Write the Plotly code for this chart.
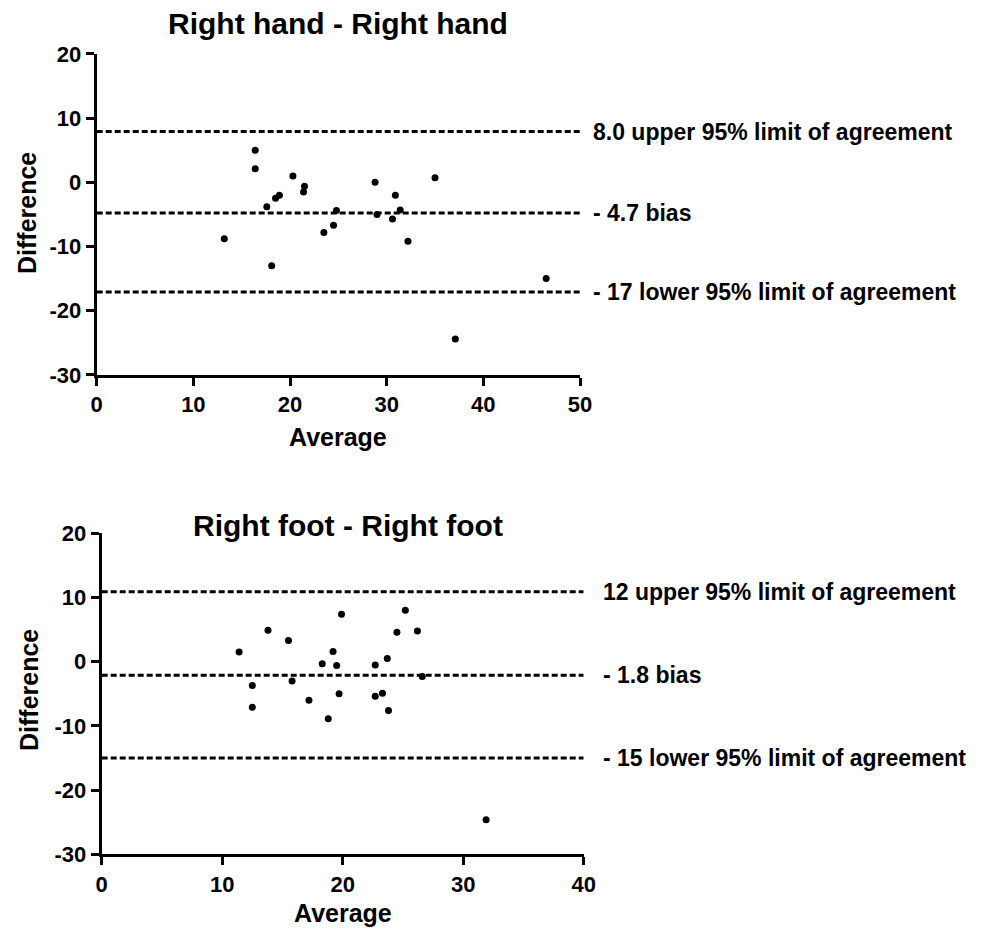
import plotly.graph_objects as go

# Top panel: Right hand - Right hand
hand_avg = [16.4, 16.4, 20.3, 21.5, 21.4, 18.9, 18.5, 17.6, 13.2, 18.1, 23.5,
            24.5, 24.8, 28.8, 29.0, 30.6, 30.9, 31.4, 32.2, 35.0, 37.1, 46.5]
hand_diff = [5.0, 2.1, 1.0, -0.6, -1.5, -2.0, -2.5, -3.8, -8.8, -13.0, -7.8,
             -6.7, -4.4, 0.0, -5.0, -5.7, -2.0, -4.3, -9.2, 0.7, -24.4, -15.0]
hand_limits = [7.9, -4.8, -17.1]
hand_labels = ["8.0 upper 95% limit of agreement", "- 4.7 bias", "- 17 lower 95% limit of agreement"]

# Bottom panel: Right foot - Right foot
foot_avg = [11.4, 12.5, 12.5, 13.8, 15.5, 15.8, 17.2, 18.3, 18.8, 19.2, 19.5, 19.7,
            19.9, 22.7, 22.7, 23.3, 23.7, 23.8, 24.5, 25.2, 26.2, 26.6, 31.9]
foot_diff = [1.5, -3.7, -7.1, 4.9, 3.3, -3.0, -6.0, -0.3, -8.9, 1.6, -0.6, -5.0,
             7.4, -0.5, -5.4, -4.9, 0.5, -7.6, 4.6, 8.0, 4.8, -2.3, -24.6]
foot_limits = [10.9, -2.1, -15.0]
foot_labels = ["12 upper 95% limit of agreement", "- 1.8 bias", "- 15 lower 95% limit of agreement"]

x_ticks_hand = [0, 10, 20, 30, 40, 50]
x_ticks_foot = [0, 10, 20, 30, 40]
y_ticks = [-30, -20, -10, 0, 10, 20]
y_ticktext = ["-30", "-20", "-10", "0", "10", "20"]

FONT = "Liberation Sans"
W, H = 981, 929
OFF = 8  # page body margin
DASH = "6px,3px"


def px(x):
    return (x - OFF) / W


def py(y):
    return 1 - (y - OFF) / H


fig = go.Figure()

# hand
for v in hand_limits:
    fig.add_trace(go.Scatter(x=[0, 50], y=[v, v], mode="lines", xaxis="x", yaxis="y",
                             line=dict(color="black", width=3, dash=DASH), showlegend=False, hoverinfo="skip"))
fig.add_trace(go.Scatter(x=hand_avg, y=hand_diff, mode="markers", xaxis="x", yaxis="y",
                         marker=dict(color="black", size=7), showlegend=False, cliponaxis=False))
# foot
for v in foot_limits:
    fig.add_trace(go.Scatter(x=[0, 40], y=[v, v], mode="lines", xaxis="x2", yaxis="y2",
                             line=dict(color="black", width=3, dash=DASH), showlegend=False, hoverinfo="skip"))
fig.add_trace(go.Scatter(x=foot_avg, y=foot_diff, mode="markers", xaxis="x2", yaxis="y2",
                         marker=dict(color="black", size=7), showlegend=False, cliponaxis=False))

tickfont = dict(family=FONT, size=22, color="black", weight="bold")
axcommon = dict(showline=True, linecolor="black", linewidth=3, ticks="outside", ticklen=8,
                tickwidth=3, tickcolor="black", showgrid=False, zeroline=False, automargin=False,
                tickfont=tickfont)

fig.update_layout(
    width=W, height=H, margin=dict(l=0, r=0, t=0, b=0),
    plot_bgcolor="white", paper_bgcolor="white",
    xaxis=dict(domain=[px(96.7), px(580)], range=[0, 50], tickvals=x_ticks_hand, anchor="y", **axcommon),
    yaxis=dict(domain=[py(374.9), py(53.9)], range=[-30, 20], tickvals=y_ticks, ticktext=y_ticktext,
               anchor="x", **axcommon),
    xaxis2=dict(domain=[px(101.7), px(583.7)], range=[0, 40], tickvals=x_ticks_foot, anchor="y2", **axcommon),
    yaxis2=dict(domain=[py(854.3), py(533.3)], range=[-30, 20], tickvals=y_ticks, ticktext=y_ticktext,
                anchor="x2", **axcommon),
)

labfont = dict(family=FONT, size=23, color="black", weight="bold")
for v, t in zip(hand_limits, hand_labels):
    fig.add_annotation(x=px(591), xref="paper", y=v, yref="y", text=t, showarrow=False,
                       xanchor="left", yanchor="middle", font=labfont)
for v, t in zip(foot_limits, foot_labels):
    fig.add_annotation(x=px(601), xref="paper", y=v, yref="y2", text=t, showarrow=False,
                       xanchor="left", yanchor="middle", font=labfont)

tfont = dict(family=FONT, size=30, color="black", weight="bold")
fig.add_annotation(x=px(338), y=py(24), xref="paper", yref="paper", text="Right hand - Right hand",
                   showarrow=False, xanchor="center", yanchor="middle", font=tfont)
fig.add_annotation(x=px(348), y=py(525), xref="paper", yref="paper", text="Right foot - Right foot",
                   showarrow=False, xanchor="center", yanchor="middle", font=tfont)

afont = dict(family=FONT, size=25, color="black", weight="bold")
for (x, y) in [(338, 437), (343, 913)]:
    fig.add_annotation(x=px(x), y=py(y), xref="paper", yref="paper", text="Average",
                       showarrow=False, xanchor="center", yanchor="middle", font=afont)
for (x, y) in [(27, 213), (29, 690)]:
    fig.add_annotation(x=px(x), y=py(y), xref="paper", yref="paper", text="Difference", textangle=-90,
                       showarrow=False, xanchor="center", yanchor="middle", font=afont)

fig.write_html("out.html")
